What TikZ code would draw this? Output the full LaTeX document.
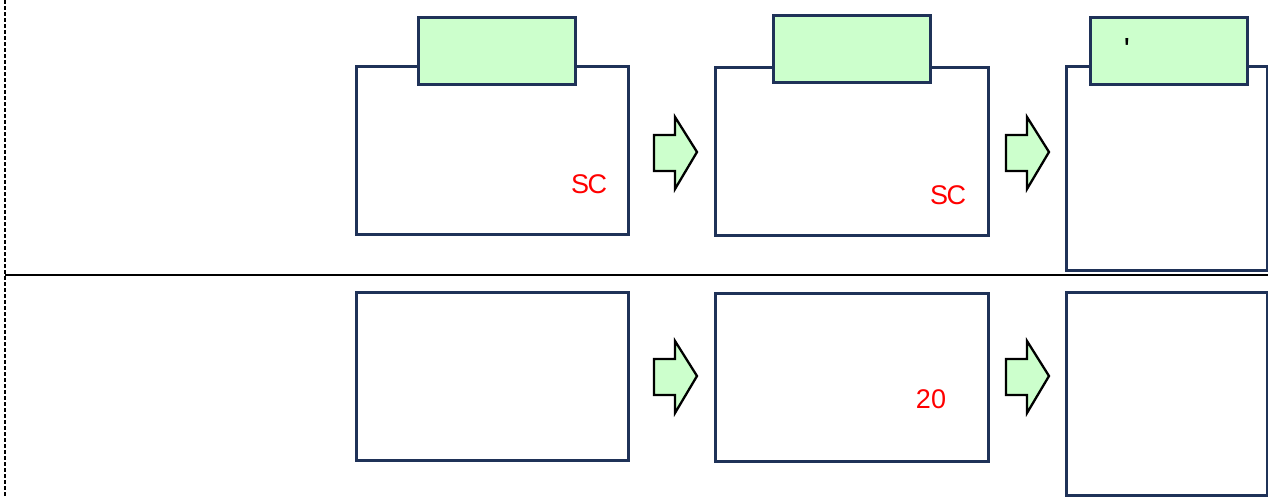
\documentclass[tikz,border=0pt]{standalone}
\usepackage{fontspec}
\setmainfont{Liberation Sans}
\definecolor{frame}{RGB}{31,50,88}
\definecolor{tabfill}{RGB}{204,255,204}
\begin{document}
\begin{tikzpicture}[x=1pt,y=-1pt,
  panel/.style={draw=frame,line width=2.8pt,fill=white,rectangle,inner sep=0pt,anchor=north west},
  tabbox/.style={draw=frame,line width=2.8pt,fill=tabfill,rectangle,inner sep=0pt,anchor=north west,
    minimum width=157pt,minimum height=67pt},
  redlbl/.style={text=red,font=\fontsize{27}{27}\selectfont,inner sep=0pt,anchor=base},
  blockarrow/.style={draw=black,line width=2.3pt,fill=tabfill,line join=miter}]
\useasboundingbox (0,0) rectangle (1268,496);

% lane separators
\draw[line width=1.6pt,dash pattern=on 4pt off 2pt] (5,0) -- (5,496);
\draw[line width=2.6pt] (5,275) -- (1268,275);

% upper lane: panels with green tabs
\node[panel,minimum width=272pt,minimum height=168pt] (p1) at (355,65) {};
\node[tabbox] (t1) at (417,16) {};
\node[panel,minimum width=273pt,minimum height=168pt] (p2) at (714,66) {};
\node[tabbox] (t2) at (772,14) {};
\node[panel,minimum width=201pt,minimum height=204pt] (p3) at (1065,65) {};
\node[tabbox] (t3) at (1089,16) {};

% lower lane: plain panels
\node[panel,minimum width=272pt,minimum height=168pt] (q1) at (355,291) {};
\node[panel,minimum width=273pt,minimum height=168pt] (q2) at (714,292) {};
\node[panel,minimum width=201pt,minimum height=203pt] (q3) at (1065,291) {};

% block arrows between panels
\foreach \ax/\ay in {654/0, 1006/0, 654/224, 1006/224}{
  \draw[blockarrow,shift={(\ax,\ay)}]
    (0,135) -- (21,135) -- (21,117) -- (43,152) -- (21,189) -- (21,171) -- (0,171) -- cycle;
}

% labels
\node[redlbl] (s1) at (589,193) {S\kern-1.5pt C};
\node[redlbl] (s2) at (948,204) {S\kern-1.5pt C};
\node[redlbl] (n1) at (931,408) {20};
\node[inner sep=0pt,anchor=base,font=\fontsize{32}{32}\selectfont] (m1) at (1127,60) {\textquotesingle};
\end{tikzpicture}
\end{document}
